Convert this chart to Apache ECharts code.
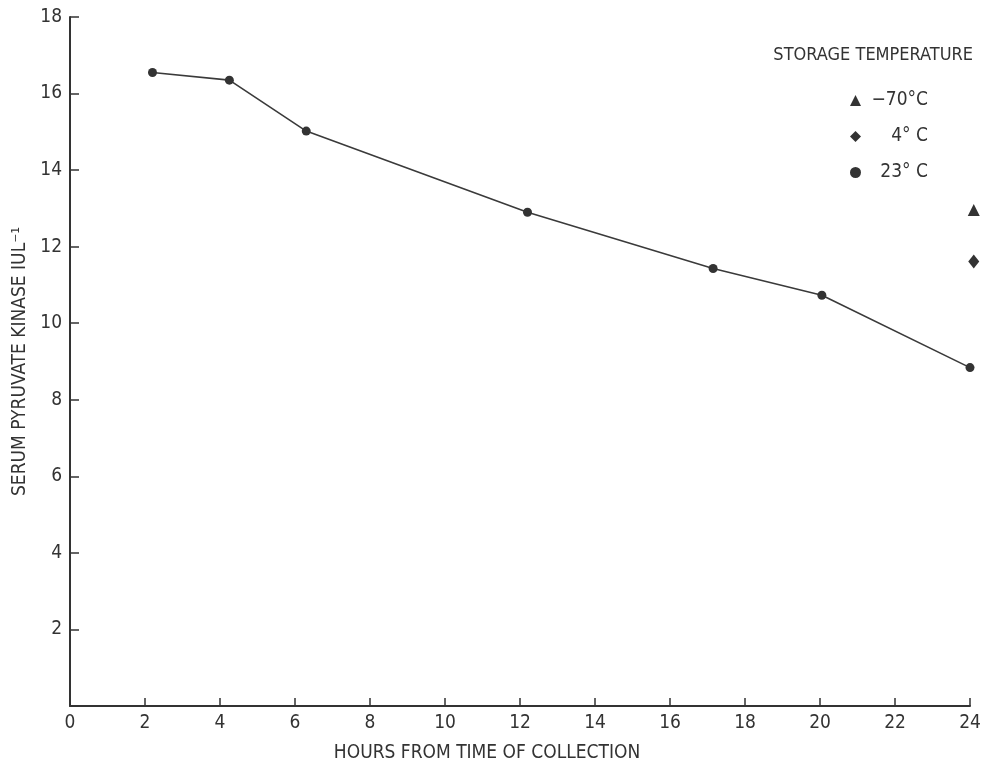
<!DOCTYPE html>
<html>
<head>
<meta charset="utf-8">
<script src="https://cdn.jsdelivr.net/npm/echarts@6/dist/echarts.min.js"></script>
<style>
html,body{margin:0;padding:0;background:#fff;}
#chart{width:986px;height:779px;}
</style>
</head>
<body>
<div id="chart"></div>
<script>
// Data
const hours23 = [2.2, 4.25, 6.3, 12.2, 17.15, 20.05, 24.0];
const pk23 = [16.55, 16.35, 15.02, 12.9, 11.43, 10.73, 8.84];
const hoursMinus70 = [24.1];
const pkMinus70 = [12.96];
const hours4 = [24.1];
const pk4 = [11.61];
const xTicks = [0, 2, 4, 6, 8, 10, 12, 14, 16, 18, 20, 22, 24];
const yTicks = [0, 2, 4, 6, 8, 10, 12, 14, 16, 18];
const seriesNames = ['\u221270\u00b0C', '4\u00b0 C', '23\u00b0 C'];
const legendTitle = 'STORAGE TEMPERATURE';
const xTitle = 'HOURS FROM TIME OF COLLECTION';
const yTitle = 'SERUM PYRUVATE KINASE IUL\u207b\u00b9';

const FONT = "'Liberation Sans Narrow', 'DejaVu Sans Condensed', 'Roboto', sans-serif";
const INK = '#333333';
const MARK = '#333333';

const zip = (xs, ys) => xs.map((x, i) => [x, ys[i]]);

const chart = echarts.init(document.getElementById('chart'), null, {renderer: 'canvas'});
chart.setOption({
  backgroundColor: '#ffffff',
  animation: false,
  textStyle: {fontFamily: FONT, color: INK},
  title: {
    text: legendTitle,
    right: 8,
    top: 41,
    textStyle: {fontFamily: FONT, fontSize: 18, fontWeight: 'normal', color: INK}
  },
  legend: {
    orient: 'vertical',
    left: 845,
    top: 86,
    itemWidth: 11,
    itemHeight: 11,
    itemGap: 17,
    data: [
      {name: seriesNames[0], icon: 'triangle'},
      {name: seriesNames[1], icon: 'diamond'},
      {name: seriesNames[2], icon: 'circle'}
    ],
    formatter: name => '{a|' + name + '}',
    textStyle: {
      fontFamily: FONT,
      color: INK,
      rich: {a: {fontFamily: FONT, fontSize: 19, color: INK, width: 62, align: 'right', lineHeight: 22}}
    }
  },
  grid: {left: 70, right: 16, top: 17, bottom: 73, containLabel: false},
  xAxis: {
    type: 'value',
    min: 0,
    max: 24,
    interval: 2,
    name: xTitle,
    nameLocation: 'middle',
    nameGap: 38,
    nameTextStyle: {fontFamily: FONT, fontSize: 19, color: INK, padding: [0, 66, 0, 0]},
    axisLine: {show: true, lineStyle: {color: INK, width: 2}},
    axisTick: {show: true, inside: true, length: 8, lineStyle: {color: INK, width: 1.5}},
    axisLabel: {fontFamily: FONT, fontSize: 19, color: INK, margin: 8,
      formatter: v => xTicks.includes(v) ? String(v) : ''},
    splitLine: {show: false}
  },
  yAxis: {
    type: 'value',
    min: 0,
    max: 18,
    interval: 2,
    name: yTitle,
    nameLocation: 'middle',
    nameGap: 36,
    nameTextStyle: {fontFamily: FONT, fontSize: 19, color: INK},
    axisLine: {show: true, lineStyle: {color: INK, width: 2}},
    axisTick: {show: true, inside: true, length: 9, lineStyle: {color: INK, width: 1.5}},
    axisLabel: {fontFamily: FONT, fontSize: 19, color: INK, margin: 8,
      formatter: v => (v === 0 ? '' : (yTicks.includes(v) ? String(v) : ''))},
    splitLine: {show: false}
  },
  series: [
    {
      name: seriesNames[0],
      type: 'scatter',
      symbol: 'triangle',
      symbolSize: 12,
      clip: false,
      itemStyle: {color: MARK, opacity: 1},
      data: zip(hoursMinus70, pkMinus70)
    },
    {
      name: seriesNames[1],
      type: 'scatter',
      symbol: 'diamond',
      symbolSize: [11, 14],
      clip: false,
      itemStyle: {color: MARK, opacity: 1},
      data: zip(hours4, pk4)
    },
    {
      name: seriesNames[2],
      type: 'line',
      symbol: 'circle',
      symbolSize: 9,
      showSymbol: true,
      clip: false,
      itemStyle: {color: MARK},
      lineStyle: {color: '#3a3a3a', width: 1.6},
      data: zip(hours23, pk23)
    }
  ]
});
</script>
</body>
</html>
